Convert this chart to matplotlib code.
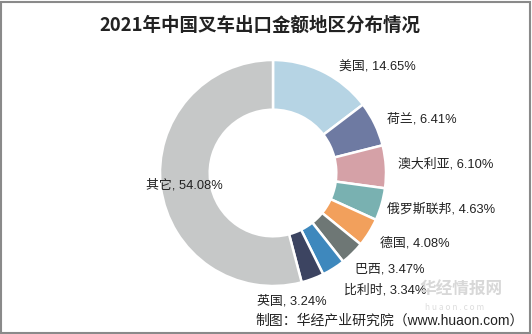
import matplotlib
matplotlib.use("Agg")
import matplotlib.pyplot as plt
from matplotlib.patches import Rectangle

plt.rcParams['font.family'] = ['Noto Sans CJK SC', 'DejaVu Sans']
LBL_FONT = ['Liberation Sans', 'Noto Sans CJK SC', 'DejaVu Sans']

title = "2021年中国叉车出口金额地区分布情况"
regions = ["美国", "荷兰", "澳大利亚", "俄罗斯联邦", "德国", "巴西", "比利时", "英国", "其它"]
shares = [14.65, 6.41, 6.10, 4.63, 4.08, 3.47, 3.34, 3.24, 54.08]
colors = ["#b6d4e4", "#6e7aa2", "#d5a1a7", "#79b1b1", "#f2a05c",
          "#6e7775", "#3e88bd", "#3c4461", "#c6c8c8"]
source = "制图：华经产业研究院（www.huaon.com）"

W, H = 532, 334
fig = plt.figure(figsize=(W / 100, H / 100), dpi=100)
fig.patch.set_facecolor("white")

# border
fig.add_artist(Rectangle((1 / W, 1.5 / H), (W - 3) / W, (H - 3.5) / H,
                         transform=fig.transFigure, fill=False,
                         edgecolor="#8a8a8a", linewidth=1.5))

cx, cy, r = 273, 173, 113
ax = fig.add_axes([(cx - r) / W, (H - cy - r) / H, 2 * r / W, 2 * r / H])
wedges, _ = ax.pie(shares, colors=colors, startangle=90, counterclock=False,
                   radius=1.0,
                   wedgeprops=dict(width=0.44, edgecolor="white", linewidth=1.8))
ax.set_xlim(-1, 1)
ax.set_ylim(-1, 1)
ax.set_aspect("equal")
ax.axis("off")

fig.text(260 / W, 1 - 25 / H, title, ha="center", va="center",
         fontsize=13.3, fontweight="bold", color="#222222")

label_pos = [(339, 67), (387, 119), (398, 164), (387, 209), (380, 243),
             (355, 269), (344, 290), (257, 301), (146, 185)]
for name, val, (px, py) in zip(regions, shares, label_pos):
    fig.text(px / W, 1 - py / H, f"{name}, {val:.2f}%", ha="left", va="center",
             fontsize=9.3, color="#222222", family=LBL_FONT)

# watermark
fig.text(420 / W, 1 - 290 / H, "华经情报网", ha="left", va="center",
         fontsize=12, color="#d8d8d8", fontweight="bold")
fig.text(425 / W, 1 - 307 / H, "h u a o n . c o m", ha="left", va="center",
         fontsize=6, color="#dddddd")

fig.text(255 / W, 1 - 320 / H, source, ha="left", va="center",
         fontsize=10, color="#222222", family=LBL_FONT)

fig.savefig("out.png", dpi=100, facecolor="white")
